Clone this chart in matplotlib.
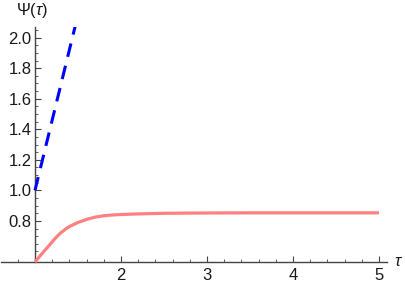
import matplotlib
matplotlib.use("Agg")
import matplotlib.pyplot as plt
from matplotlib.ticker import FixedLocator

plt.rcParams['font.family'] = ['Liberation Sans', 'DejaVu Sans']
plt.rcParams['mathtext.fontset'] = 'custom'
plt.rcParams['mathtext.rm'] = 'Liberation Sans'
plt.rcParams['mathtext.it'] = 'Liberation Sans:italic'

# Data
tau_red = [1.0, 1.05, 1.1, 1.15, 1.2, 1.25, 1.3, 1.35, 1.4, 1.5, 1.6, 1.7,
           1.8, 1.9, 2.0, 2.2, 2.5, 3.0, 3.5, 4.0, 4.5, 5.0]
psi_red = [0.531, 0.565, 0.598, 0.630, 0.663, 0.695, 0.722, 0.744, 0.763,
           0.790, 0.810, 0.825, 0.834, 0.839, 0.842, 0.846, 0.850, 0.852,
           0.853, 0.853, 0.853, 0.853]
tau_blue = [1.0, 1.5]
psi_blue = [1.0, 2.15]

x_major = [2, 3, 4, 5]
x_minor = [0.8, 1.2, 1.4, 1.6, 1.8, 2.2, 2.4, 2.6, 2.8, 3.2, 3.4, 3.6, 3.8,
           4.2, 4.4, 4.6, 4.8]
y_major = [0.8, 1.0, 1.2, 1.4, 1.6, 1.8, 2.0]
y_minor = [0.55, 0.6, 0.65, 0.7, 0.75, 0.85, 0.9, 0.95, 1.05, 1.1, 1.15,
           1.25, 1.3, 1.35, 1.45, 1.5, 1.55, 1.65, 1.7, 1.75, 1.85, 1.9, 1.95,
           2.05]
x_tick_labels = ['2', '3', '4', '5']
y_tick_labels = ['0.8', '1.0', '1.2', '1.4', '1.6', '1.8', '2.0']

axcol = '#444444'
txtcol = '#1a1a1a'
fig = plt.figure(figsize=(4.05, 2.85), dpi=100)
ax = fig.add_axes([1 / 405, 23 / 285, 386 / 405, 235 / 285])
ax.set_xlim(0.605, 5.093)
ax.set_ylim(0.531, 2.07)

ax.plot(tau_red, psi_red, color='#FF8080', lw=2.3, solid_capstyle='butt',
        clip_on=False, zorder=3)
ax.plot(tau_blue, psi_blue, color='#0000FF', lw=2.2, dashes=(4.5, 3.0),
        zorder=3)

for s in ['top', 'right']:
    ax.spines[s].set_visible(False)
ax.spines['left'].set_position(('data', 1.0))
ax.spines['left'].set_color(axcol)
ax.spines['bottom'].set_color(axcol)
ax.spines['left'].set_linewidth(1.0)
ax.spines['bottom'].set_linewidth(1.0)

ax.set_xticks(x_major)
ax.set_xticklabels(x_tick_labels)
ax.xaxis.set_minor_locator(FixedLocator(x_minor))
ax.set_yticks(y_major)
ax.set_yticklabels(y_tick_labels)
ax.yaxis.set_minor_locator(FixedLocator(y_minor))

ax.tick_params(axis='both', which='major', direction='in', length=4,
               width=0.8, color=axcol, labelsize=12, labelcolor=txtcol)
ax.tick_params(axis='both', which='minor', direction='in', length=2.2,
               width=0.6, color=axcol)
ax.tick_params(axis='x', which='major', pad=4)
ax.tick_params(axis='y', which='major', pad=2.5)

fig.text(32 / 405, 1 - 11 / 285, r'$\Psi(\tau)$', ha='center', va='center',
         fontsize=12, color=txtcol)
fig.text(399 / 405, 1 - 262 / 285, r'$\tau$', ha='center', va='center',
         fontsize=12, color=txtcol)

fig.savefig('out.png', dpi=100)
